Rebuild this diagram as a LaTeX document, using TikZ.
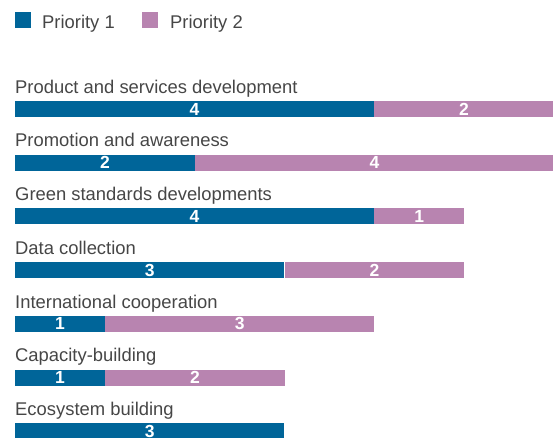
\documentclass[tikz,border=0pt]{standalone}
\usepackage{fontspec}
\setmainfont{Liberation Sans}
\definecolor{prioone}{RGB}{0,101,153}
\definecolor{priotwo}{RGB}{184,132,176}
\definecolor{labelgray}{RGB}{70,70,70}
\tikzset{
  rowlabel/.style={anchor=base west, inner sep=0, text=labelgray, font=\fontsize{18.4}{21}\selectfont},
  seg/.style={anchor=west, inner sep=0, minimum height=16pt, text=white, font=\bfseries\fontsize{17.5}{20}\selectfont},
  barlen/.style={minimum width=#1*89.7pt},
  keybox/.style={inner sep=0, minimum size=16pt}
}
\begin{document}
\begin{tikzpicture}[x=1pt,y=-1pt]
\useasboundingbox (0,0) rectangle (553,438);

\node[keybox, fill=prioone] (key1) at (23,20.5) {};
\node[rowlabel] (key1txt) at (42,29) {Priority 1};
\node[keybox, fill=priotwo] (key2) at (150,20.5) {};
\node[rowlabel] (key2txt) at (170,29) {Priority 2};

\node[rowlabel] (l1) at (15,93.3) {Product and services development};
\node[seg, barlen=4, fill=prioone] (a1) at (15,109) {4};
\node[seg, barlen=2, fill=priotwo] (a2) at (a1.east) {2};

\node[rowlabel] (l2) at (15,147) {Promotion and awareness};
\node[seg, barlen=2, fill=prioone] (b1) at (15,162.7) {2};
\node[seg, barlen=4, fill=priotwo] (b2) at (b1.east) {4};

\node[rowlabel] (l3) at (15,200.7) {Green standards developments};
\node[seg, barlen=4, fill=prioone] (c1) at (15,216.4) {4};
\node[seg, barlen=1, fill=priotwo] (c2) at (c1.east) {1};

\node[rowlabel] (l4) at (15,254.4) {Data collection};
\node[seg, barlen=3, fill=prioone] (d1) at (15,270.1) {3};
\node[seg, barlen=2, fill=priotwo] (d2) at (d1.east) {2};

\node[rowlabel] (l5) at (15,308.1) {International cooperation};
\node[seg, barlen=1, fill=prioone] (e1) at (15,323.8) {1};
\node[seg, barlen=3, fill=priotwo] (e2) at (e1.east) {3};

\node[rowlabel] (l6) at (15,361.8) {Capacity-building};
\node[seg, barlen=1, fill=prioone] (f1) at (15,377.5) {1};
\node[seg, barlen=2, fill=priotwo] (f2) at (f1.east) {2};

\node[rowlabel] (l7) at (15,415.5) {Ecosystem building};
\node[seg, barlen=3, fill=prioone] (g1) at (15,431.2) {3};
\end{tikzpicture}
\end{document}
